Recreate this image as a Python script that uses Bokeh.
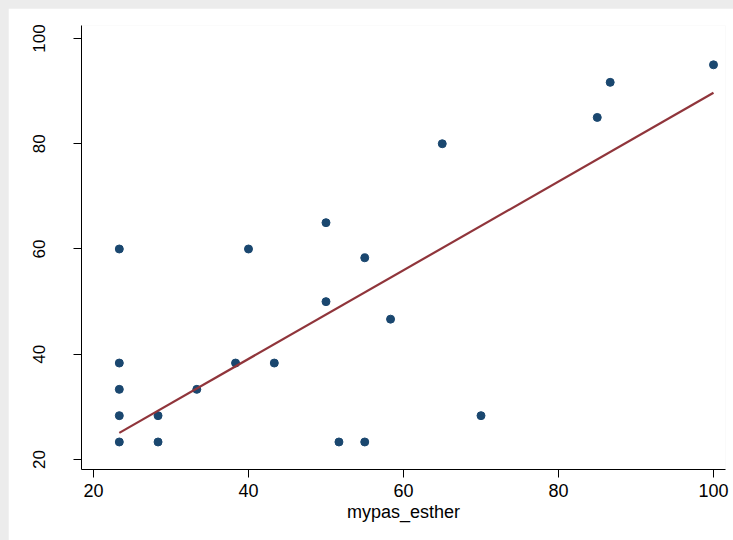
from bokeh.plotting import figure
from bokeh.models import Range1d, FixedTicker, ColumnDataSource
from bokeh.layouts import column
from bokeh.embed import file_html
from bokeh.resources import INLINE

# Observed scores (x: mypas_esther, y: comparison score)
mypas_esther = [23.33, 23.33, 23.33, 23.33, 23.33, 28.33, 28.33, 33.33, 38.33,
                40.0, 43.33, 50.0, 50.0, 51.67, 55.0, 55.0, 58.33, 65.0, 70.0,
                85.0, 86.67, 100.0]
score = [60.0, 38.33, 33.33, 28.33, 23.33, 28.33, 23.33, 33.33, 38.33,
         60.0, 38.33, 65.0, 50.0, 23.33, 58.33, 23.33, 46.67, 80.0, 28.33,
         85.0, 91.67, 95.0]

# Linear fit, evaluated at the ends of the observed x range
fit_x = [23.33, 100.0]
fit_y = [25.06, 89.68]

ticks = [20, 40, 60, 80, 100]

NAVY = "#1a476f"
MAROON = "#90353b"
FONT = "Liberation Sans"

p = figure(width=725, height=532, output_backend="svg", toolbar_location=None,
           x_range=Range1d(18.452, 101.548), y_range=Range1d(18.10, 102.47))
p.min_border = 0
p.min_border_left = 73
p.min_border_right = 8
p.min_border_top = 17
p.min_border_bottom = 71
p.outline_line_color = None
p.background_fill_color = "white"
p.border_fill_color = "white"
p.grid.visible = False

src = ColumnDataSource(dict(x=mypas_esther, y=score))
p.scatter("x", "y", source=src, size=8, fill_color=NAVY, line_color=NAVY)
p.line(fit_x, fit_y, line_color=MAROON, line_width=2.2)

for ax in (p.xaxis[0], p.yaxis[0]):
    ax.ticker = FixedTicker(ticks=ticks)
    ax.minor_tick_line_color = None
    ax.major_tick_in = 0
    ax.major_tick_out = 8
    ax.axis_line_color = "#000000"
    ax.axis_line_width = 1
    ax.major_tick_line_color = "#000000"
    ax.major_label_text_font = FONT
    ax.major_label_text_color = "#000000"

p.xaxis.major_label_text_font_size = "18px"
p.xaxis.major_label_standoff = 6
p.xaxis.axis_label = "mypas_esther"
p.xaxis.axis_label_text_font = FONT
p.xaxis.axis_label_text_font_size = "18px"
p.xaxis.axis_label_text_font_style = "normal"
p.xaxis.axis_label_text_color = "#000000"
p.xaxis.axis_label_standoff = 2

p.yaxis.major_label_text_font_size = "17px"
p.yaxis.major_label_orientation = "vertical"
p.yaxis.major_label_standoff = 28

p.margin = (8, 0, 0, 8)
page = column(p, styles={"background-color": "#ececec"}, margin=0)

open("out.html", "w").write(file_html(page, INLINE))
